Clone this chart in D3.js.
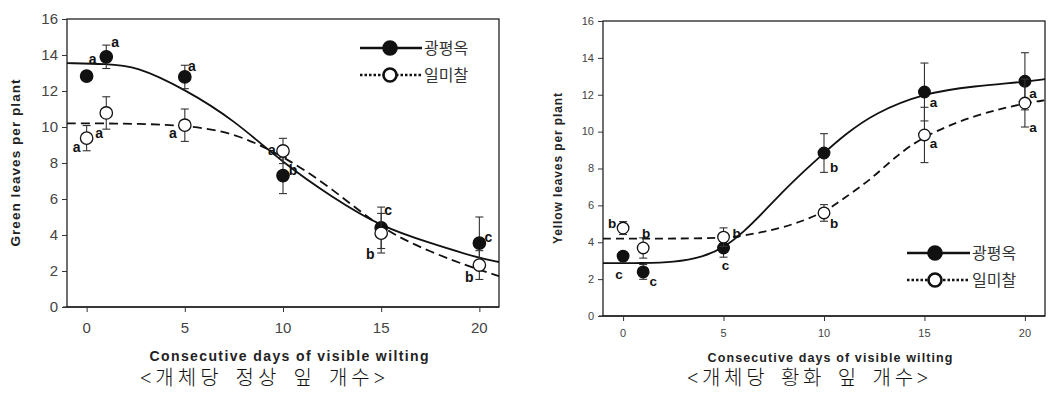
<!DOCTYPE html>
<html>
<head>
<meta charset="utf-8">
<script src="https://cdn.jsdelivr.net/npm/d3@7"></script>
<style>
  body { margin: 0; background: #fff; }
  svg { display: block; }
</style>
</head>
<body>
<div id="vis"></div>
<script>
// sampling days
const days = [0, 1, 5, 10, 15, 20];

// green leaves per plant
const greenKpo = [12.83, 13.9, 12.78, 7.3, 4.4, 3.55];
const greenKpoErr = [0.2, 0.65, 0.65, 1.0, 1.15, 1.45];
const greenKpoLetters = ['a', 'a', 'a', 'b', 'c', 'c'];
const greenIlm = [9.38, 10.78, 10.1, 8.67, 4.1, 2.33];
const greenIlmErr = [0.7, 0.9, 0.9, 0.7, 1.1, 0.8];
const greenIlmLetters = ['a', 'a', 'a', 'a', 'b', 'b'];

// fitted curves
const greenCurveX = [-1, 1, 2.5, 5, 7.5, 10, 12.5, 15, 17.5, 20, 21];
const greenKpoCurve = [13.55, 13.5, 13.4, 12.1, 10.4, 8.0, 6.1, 4.45, 3.55, 2.7, 2.5];
const greenIlmCurve = [10.2, 10.2, 10.18, 10.1, 9.7, 8.4, 6.6, 4.33, 3.05, 2.05, 1.72];

// yellow leaves per plant
const yellowKpo = [3.25, 2.39, 3.69, 8.84, 12.15, 12.73];
const yellowKpoErr = [0.15, 0.4, 0.5, 1.05, 1.57, 1.55];
const yellowKpoLetters = ['c', 'c', 'c', 'b', 'a', 'a'];
const yellowIlm = [4.77, 3.69, 4.28, 5.59, 9.82, 11.55];
const yellowIlmErr = [0.35, 0.55, 0.5, 0.45, 1.5, 1.3];
const yellowIlmLetters = ['b', 'b', 'b', 'b', 'a', 'a'];

const yellowKpoCurveX = [-1, 1, 2.5, 4, 5, 6, 7, 8, 9, 10, 11, 12.5, 15, 17.5, 20, 21];
const yellowKpoCurve = [2.87, 2.87, 2.9, 3.2, 3.69, 4.55, 5.65, 6.8, 7.85, 8.84, 9.8, 11.0, 12.1, 12.47, 12.7, 12.85];
const yellowIlmCurveX = [-1, 1, 2.5, 5, 6, 8, 10, 11, 12.3, 13.5, 15, 17.5, 20, 21];
const yellowIlmCurve = [4.2, 4.2, 4.2, 4.22, 4.35, 4.77, 5.58, 6.4, 7.37, 8.6, 9.8, 10.9, 11.55, 11.7];

const cultivars = ['광평옥', '일미찰'];
const xTicks = [0, 5, 10, 15, 20];
const yTicks = [0, 2, 4, 6, 8, 10, 12, 14, 16];

const svg = d3.select('#vis').append('svg')
    .attr('width', 1057)
    .attr('height', 400);

drawPanel({
  left: 67, right: 499, top: 19, bottom: 307,
  tickSize: 15, letterSize: 14, r: 6.2,
  yTitle: 'Green leaves per plant', yTitleX: 15, yTitleLen: 167, yTitleSize: 13.5,
  xTitleY: 361, xTitleLen: 279, xTitleSize: 14, tickY: 333,
  caption: '<개체당 정상 잎 개수>', captionX: 140, captionLen: 245, captionY: 385,
  kpo: greenKpo, kpoErr: greenKpoErr, kpoLetters: greenKpoLetters,
  ilm: greenIlm, ilmErr: greenIlmErr, ilmLetters: greenIlmLetters,
  kpoCurveX: greenCurveX, kpoCurve: greenKpoCurve,
  ilmCurveX: greenCurveX, ilmCurve: greenIlmCurve,
  kpoOff: [[6, -17], [9, -15], [7, -11], [10, -6], [7, -18], [9, -6]],
  ilmOff: [[-10, 9], [-7, 20], [-12, 8], [-11, -1], [-11, 21], [-10, 12]],
  legend: {x0: 360, x1: 422, cx: 390, y: 48, dy: 27, textX: 424},
  dash: '9,5'
});

drawPanel({
  left: 603, right: 1045, top: 21, bottom: 316,
  tickSize: 11, letterSize: 13.5, r: 5.8,
  yTitle: 'Yellow leaves per plant', yTitleX: 558, yTitleLen: 151, yTitleSize: 12,
  xTitleY: 362, xTitleLen: 245, xTitleSize: 12.5, tickY: 337,
  caption: '<개체당 황화 잎 개수>', captionX: 687, captionLen: 241, captionY: 385,
  kpo: yellowKpo, kpoErr: yellowKpoErr, kpoLetters: yellowKpoLetters,
  ilm: yellowIlm, ilmErr: yellowIlmErr, ilmLetters: yellowIlmLetters,
  kpoCurveX: yellowKpoCurveX, kpoCurve: yellowKpoCurve,
  ilmCurveX: yellowIlmCurveX, ilmCurve: yellowIlmCurve,
  kpoOff: [[-4, 18], [10, 9], [2, 17], [10, 14], [9, 10], [8, 12]],
  ilmOff: [[-11, -5], [3, -15], [13, -4], [10, 10], [9, 8], [8, 24]],
  legend: {x0: 907, x1: 970, cx: 935, y: 253, dy: 27, textX: 972},
  dash: '8,5'
});


function drawPanel(c) {
  const x = d3.scaleLinear().domain([-1, 21]).range([c.left, c.right]);
  const y = d3.scaleLinear().domain([0, 16]).range([c.bottom, c.top]);
  const g = svg.append('g');

  // frame
  g.append('rect')
      .attr('x', c.left).attr('y', c.top)
      .attr('width', c.right - c.left).attr('height', c.bottom - c.top)
      .attr('fill', 'none').attr('stroke', '#222').attr('stroke-width', 1.3);

  const xAxis = g.append('g')
      .attr('transform', `translate(0,${c.bottom})`)
      .call(d3.axisBottom(x).tickValues(xTicks).tickSize(5).tickFormat(d3.format('d')));
  xAxis.select('.domain').attr('d', `M${c.left - 4},0H${c.right}`);
  xAxis.selectAll('text').remove();
  xAxis.selectAll('line').attr('stroke', '#333');

  const yAxis = g.append('g')
      .attr('transform', `translate(${c.left},0)`)
      .call(d3.axisLeft(y).tickValues(yTicks).tickSize(5));
  yAxis.select('.domain').remove();
  yAxis.selectAll('text').remove();
  yAxis.selectAll('line').attr('stroke', '#333');

  g.selectAll('.xtick')
    .data(xTicks)
    .join('text')
      .attr('x', d => x(d))
      .attr('y', c.tickY)
      .attr('text-anchor', 'middle')
      .attr('font-family', 'Liberation Sans, Arial, sans-serif')
      .attr('font-size', c.tickSize)
      .attr('fill', '#444')
      .text(d => d);

  g.selectAll('.ytick')
    .data(yTicks)
    .join('text')
      .attr('x', c.left - 9)
      .attr('y', d => y(d))
      .attr('dy', '0.35em')
      .attr('text-anchor', 'end')
      .attr('font-family', 'Liberation Sans, Arial, sans-serif')
      .attr('font-size', c.tickSize)
      .attr('fill', '#444')
      .text(d => d);

  // titles
  g.append('text')
      .attr('transform', `translate(${c.yTitleX},${(c.top + c.bottom) / 2}) rotate(-90)`)
      .attr('text-anchor', 'middle')
      .attr('dy', '0.35em')
      .attr('font-family', 'Liberation Sans, Arial, sans-serif')
      .attr('font-weight', 'bold')
      .attr('font-size', c.yTitleSize)
      .attr('fill', '#222')
      .attr('textLength', c.yTitleLen)
      .attr('lengthAdjust', 'spacing')
      .text(c.yTitle);

  g.append('text')
      .attr('x', (c.left + c.right) / 2 + 6)
      .attr('y', c.xTitleY)
      .attr('text-anchor', 'middle')
      .attr('font-family', 'Liberation Sans, Arial, sans-serif')
      .attr('font-weight', 'bold')
      .attr('font-size', c.xTitleSize)
      .attr('fill', '#222')
      .attr('textLength', c.xTitleLen)
      .attr('lengthAdjust', 'spacing')
      .text('Consecutive days of visible wilting');

  g.append('text')
      .attr('x', c.captionX)
      .attr('y', c.captionY)
      .attr('font-family', 'Liberation Serif, Noto Sans CJK KR, serif')
      .attr('font-size', 20)
      .attr('font-weight', 300)
      .attr('word-spacing', 4)
      .attr('textLength', c.captionLen)
      .attr('lengthAdjust', 'spacing')
      .attr('fill', '#111')
      .text(c.caption);

  // fitted curves
  const line = d3.line()
      .x(d => x(d[0]))
      .y(d => y(d[1]))
      .curve(d3.curveBasis);

  g.append('path')
      .attr('d', line(d3.zip(c.kpoCurveX, c.kpoCurve)))
      .attr('fill', 'none').attr('stroke', '#111').attr('stroke-width', 1.8);

  g.append('path')
      .attr('d', line(d3.zip(c.ilmCurveX, c.ilmCurve)))
      .attr('fill', 'none').attr('stroke', '#111').attr('stroke-width', 1.8)
      .attr('stroke-dasharray', c.dash);

  const series = [
    {vals: c.kpo, err: c.kpoErr, letters: c.kpoLetters, off: c.kpoOff, fill: '#111'},
    {vals: c.ilm, err: c.ilmErr, letters: c.ilmLetters, off: c.ilmOff, fill: '#fff'},
  ];

  series.forEach(s => {
    const pts = days.map((d, i) => ({day: d, v: s.vals[i], e: s.err[i], letter: s.letters[i], off: s.off[i]}));

    const eb = g.append('g').attr('stroke', '#333').attr('stroke-width', 1.1);
    eb.selectAll('line.v')
      .data(pts)
      .join('line')
        .attr('x1', d => x(d.day)).attr('x2', d => x(d.day))
        .attr('y1', d => y(d.v - d.e)).attr('y2', d => y(d.v + d.e));
    eb.selectAll('line.hi')
      .data(pts)
      .join('line')
        .attr('x1', d => x(d.day) - 4).attr('x2', d => x(d.day) + 4)
        .attr('y1', d => y(d.v + d.e)).attr('y2', d => y(d.v + d.e));
    eb.selectAll('line.lo')
      .data(pts)
      .join('line')
        .attr('x1', d => x(d.day) - 4).attr('x2', d => x(d.day) + 4)
        .attr('y1', d => y(d.v - d.e)).attr('y2', d => y(d.v - d.e));

    g.append('g').selectAll('circle')
      .data(pts)
      .join('circle')
        .attr('cx', d => x(d.day))
        .attr('cy', d => y(d.v))
        .attr('r', c.r)
        .attr('fill', s.fill)
        .attr('stroke', '#111')
        .attr('stroke-width', 1.3);

    g.append('g').selectAll('text')
      .data(pts)
      .join('text')
        .attr('x', d => x(d.day) + d.off[0])
        .attr('y', d => y(d.v) + d.off[1])
        .attr('dy', '0.35em')
        .attr('text-anchor', 'middle')
        .attr('font-family', 'Liberation Sans, Arial, sans-serif')
        .attr('font-weight', 'bold')
        .attr('font-size', c.letterSize)
        .attr('fill', '#111')
        .text(d => d.letter);
  });

  // legend
  const L = c.legend;
  cultivars.forEach((name, i) => {
    const ly = L.y + i * L.dy;
    g.append('line')
        .attr('x1', L.x0).attr('x2', L.x1)
        .attr('y1', ly).attr('y2', ly)
        .attr('stroke', '#111')
        .attr('stroke-width', 2.6)
        .attr('stroke-dasharray', i === 0 ? null : '2.5,2');
    g.append('circle')
        .attr('cx', L.cx).attr('cy', ly)
        .attr('r', 6.5)
        .attr('fill', i === 0 ? '#111' : '#fff')
        .attr('stroke', '#111')
        .attr('stroke-width', 2.6);
    g.append('text')
        .attr('x', L.textX).attr('y', ly)
        .attr('dy', '0.36em')
        .attr('font-family', 'Noto Sans CJK KR, sans-serif')
        .attr('font-size', 16)
        .attr('fill', '#333')
        .text(name);
  });
}
</script>
</body>
</html>
